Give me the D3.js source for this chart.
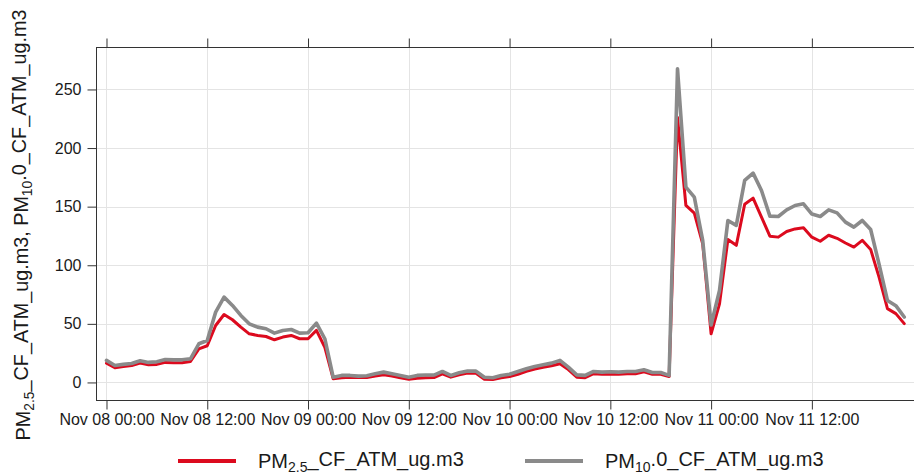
<!DOCTYPE html>
<html>
<head>
<meta charset="utf-8">
<script src="https://cdn.jsdelivr.net/npm/d3@7"></script>
<style>
  html, body { margin: 0; padding: 0; background: #fff; }
  svg { display: block; font-family: "Liberation Sans", Arial, Helvetica, sans-serif; }
</style>
</head>
<body>
<svg id="chart" width="914" height="475"></svg>
<script>
// Hourly readings, Nov 08 00:00 through Nov 11 23:00
const startTime = "2023-11-08T00:00:00Z";

const pm25 = [
  16.5, 12.5, 13.6, 14.5, 16.5, 15.1, 15.4, 17.1, 16.8, 16.8, 17.9, 28.7,
  31.3, 48.6, 58.0, 53.5, 47.2, 41.5, 40.1, 39.2, 36.4, 38.7, 40.1, 37.3,
  37.3, 44.4, 30.0, 3.1, 4.0, 4.5, 4.3, 4.3, 5.5, 6.5, 5.5, 4.0,
  2.8, 3.5, 4.0, 4.2, 7.4, 4.5, 6.5, 8.0, 7.8, 2.8, 2.6, 4.0,
  5.0, 7.0, 9.5, 11.5, 13.0, 14.2, 16.0, 11.0, 4.5, 4.0, 7.5, 7.0,
  7.3, 7.0, 7.5, 7.5, 9.0, 7.0, 7.0, 5.0, 226, 151, 144.5, 118.3,
  41.5, 67, 122, 117, 152, 157.3, 141, 124.8, 124, 128.8, 131, 132,
  124, 120.5, 125.6, 123, 119, 115.5, 121.3, 113.5, 89.9, 63, 58.7, 50.2
];

const pm10 = [
  18.8, 14.5, 15.4, 16.2, 18.5, 17.1, 17.6, 19.6, 19.3, 19.3, 20.2, 33.0,
  35.8, 60.0, 72.8, 65.7, 57.2, 50.0, 47.2, 45.8, 42.1, 44.4, 45.2, 42.1,
  42.4, 50.6, 37.3, 4.4, 6.0, 6.0, 5.4, 5.7, 7.4, 8.8, 7.4, 6.0,
  4.5, 6.0, 6.3, 6.3, 9.4, 6.0, 8.2, 9.7, 9.7, 4.5, 4.0, 6.0,
  7.0, 9.4, 11.7, 13.7, 15.1, 16.5, 18.8, 13.1, 6.5, 6.0, 9.4, 8.8,
  9.1, 8.8, 9.4, 9.4, 10.8, 8.5, 8.5, 6.0, 267.6, 166.7, 158.1, 121.2,
  49, 78.5, 138.2, 134, 172.4, 178.6, 163.8, 141.9, 141.6, 147.3, 151, 152.4,
  143.7, 141.6, 147.3, 144.7, 136.8, 132.5, 138.2, 130.5, 101, 70, 65.5, 55.8
];

const yTicks = [0, 50, 100, 150, 200, 250];
const xTickLabels = ["Nov 08 00:00", "Nov 08 12:00", "Nov 09 00:00", "Nov 09 12:00",
                     "Nov 10 00:00", "Nov 10 12:00", "Nov 11 00:00", "Nov 11 12:00"];

const seriesNames = [
  { key: "pm25", sub: "2.5", pre: "PM", post: "_CF_ATM_ug.m3", color: "#dc0a1e", width: 3 },
  { key: "pm10", sub: "10", pre: "PM", post: ".0_CF_ATM_ug.m3", color: "#8a8a8a", width: 3.6 }
];

const HOUR = 3600 * 1000;
const t0 = new Date(startTime);
const times = pm25.map((_, i) => new Date(t0.getTime() + i * HOUR));
const xTicks = xTickLabels.map((_, i) => new Date(t0.getTime() + i * 12 * HOUR));

const svg = d3.select("#chart");
const plot = { left: 96.5, right: 916, top: 47.5, bottom: 400.5 };

const x = d3.scaleUtc()
  .domain([new Date(t0.getTime() - 1.19 * HOUR), new Date(t0.getTime() + 96.4 * HOUR)])
  .range([plot.left, plot.right]);

const y = d3.scaleLinear()
  .domain([-15.4, 285.8])
  .range([plot.bottom, plot.top]);

// grid
const grid = svg.append("g").attr("stroke", "#e4e4e4").attr("stroke-width", 1);
grid.selectAll(".gy").data(yTicks).join("line")
  .attr("x1", plot.left).attr("x2", plot.right)
  .attr("y1", d => Math.round(y(d)) + 0.5).attr("y2", d => Math.round(y(d)) + 0.5);
grid.selectAll(".gx").data(xTicks).join("line")
  .attr("y1", plot.top).attr("y2", plot.bottom)
  .attr("x1", d => Math.round(x(d)) + 0.5).attr("x2", d => Math.round(x(d)) + 0.5);

// series
const seriesData = { pm25, pm10 };
const line = d3.line().x((d, i) => x(times[i])).y(d => y(d));
const clip = svg.append("clipPath").attr("id", "plotclip").append("rect")
  .attr("x", plot.left).attr("y", plot.top)
  .attr("width", plot.right - plot.left).attr("height", plot.bottom - plot.top);
svg.append("g").attr("clip-path", "url(#plotclip)")
  .selectAll("path").data(seriesNames).join("path")
  .attr("d", s => line(seriesData[s.key]))
  .attr("fill", "none")
  .attr("stroke", s => s.color)
  .attr("stroke-width", s => s.width)
  .attr("stroke-linejoin", "round")
  .attr("stroke-linecap", "round");

// frame
svg.append("rect")
  .attr("x", plot.left).attr("y", plot.top)
  .attr("width", plot.right - plot.left).attr("height", plot.bottom - plot.top)
  .attr("fill", "none").attr("stroke", "#333").attr("stroke-width", 1);

// axes
const fmt = d => xTickLabels[xTicks.findIndex(t => t.getTime() === d.getTime())];
const bottomAxis = d3.axisBottom(x).tickValues(xTicks).tickFormat(fmt).tickSize(9).tickPadding(4);
const topAxis = d3.axisTop(x).tickValues(xTicks).tickFormat("").tickSize(9);
const leftAxis = d3.axisLeft(y).tickValues(yTicks).tickSize(9).tickPadding(6);

function styleAxis(g) {
  g.select(".domain").remove();
  g.selectAll(".tick line").attr("stroke", "#333");
  g.selectAll(".tick text").attr("fill", "#1a1a1a").attr("font-size", 16)
    .attr("font-family", "Liberation Sans, Arial, sans-serif");
}
svg.append("g").attr("transform", `translate(0,${plot.bottom})`).call(bottomAxis).call(styleAxis);
svg.append("g").attr("transform", `translate(0,${plot.top})`).call(topAxis).call(styleAxis);
svg.append("g").attr("transform", `translate(${plot.left},0)`).call(leftAxis).call(styleAxis);

// label with subscripts
function subLabel(sel, parts) {
  parts.forEach(p => {
    sel.append("tspan").text(p.pre);
    sel.append("tspan").attr("font-size", "0.7em").attr("dy", "0.3em").text(p.sub);
    sel.append("tspan").attr("dy", "-0.3em").text(p.post);
  });
}

const ylab = svg.append("text")
  .attr("transform", "translate(30,225) rotate(-90)")
  .attr("text-anchor", "middle")
  .attr("font-size", 19.8)
  .attr("fill", "#1a1a1a");
subLabel(ylab, [
  { pre: "PM", sub: "2.5", post: "_CF_ATM_ug.m3, " },
  { pre: "PM", sub: "10", post: ".0_CF_ATM_ug.m3" }
]);

// legend
const legendX = [178, 525];
const legend = svg.append("g");
seriesNames.forEach((s, i) => {
  const g = legend.append("g").attr("transform", `translate(${legendX[i]},461)`);
  g.append("line").attr("x1", 0).attr("x2", 58).attr("y1", 0).attr("y2", 0)
    .attr("stroke", s.color).attr("stroke-width", 4);
  const t = g.append("text").attr("x", 80).attr("y", 6.5)
    .attr("font-size", 20).attr("fill", "#1a1a1a");
  subLabel(t, [{ pre: s.pre, sub: s.sub, post: s.post }]);
});
</script>
</body>
</html>
